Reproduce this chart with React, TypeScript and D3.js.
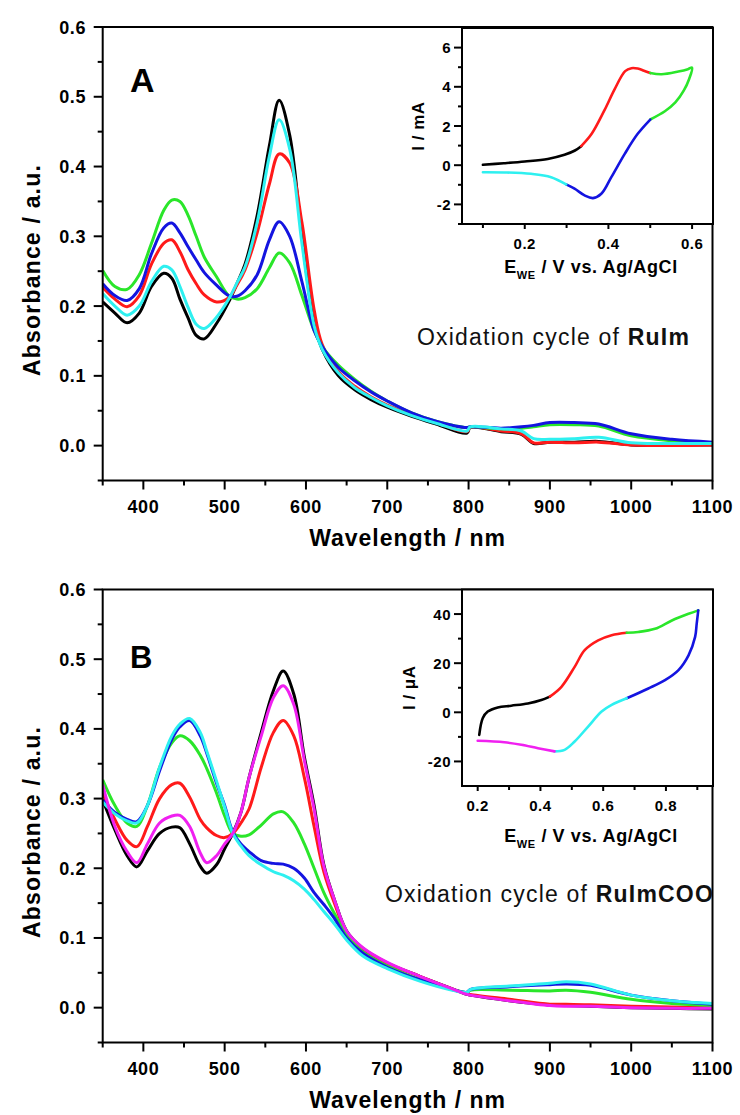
import React from "react";
import * as d3 from "d3";

// ---------------- Panel A : UV-vis spectra, oxidation cycle of RuIm ----------------
const WL_A = [350, 365, 380, 395, 410, 425, 435, 445, 455, 465, 475, 490, 505, 515, 525, 540, 555, 567, 580, 595, 610, 620, 640, 660, 680, 700, 730, 760, 798, 802, 840, 865, 880, 900, 930, 960, 1000, 1050, 1100];
const A_BLACK = [0.206, 0.19, 0.176, 0.19, 0.228, 0.247, 0.24, 0.21, 0.183, 0.158, 0.153, 0.175, 0.206, 0.232, 0.26, 0.33, 0.43, 0.495, 0.445, 0.3, 0.175, 0.138, 0.1, 0.08, 0.066, 0.055, 0.042, 0.031, 0.018, 0.026, 0.02, 0.016, 0.003, 0.005, 0.005, 0.006, 0.001, 0.001, 0.001];
const A_RED = [0.227, 0.21, 0.199, 0.215, 0.26, 0.29, 0.295, 0.278, 0.252, 0.232, 0.216, 0.206, 0.212, 0.23, 0.252, 0.305, 0.375, 0.418, 0.405, 0.32, 0.195, 0.145, 0.106, 0.085, 0.07, 0.058, 0.044, 0.033, 0.02, 0.026, 0.021, 0.017, 0.004, 0.005, 0.004, 0.005, 0.001, 0.0, 0.001];
const A_GREEN = [0.251, 0.228, 0.224, 0.245, 0.29, 0.337, 0.352, 0.35, 0.33, 0.3, 0.27, 0.242, 0.215, 0.21, 0.212, 0.225, 0.255, 0.276, 0.262, 0.215, 0.165, 0.142, 0.115, 0.095, 0.078, 0.064, 0.047, 0.035, 0.026, 0.027, 0.024, 0.025, 0.027, 0.03, 0.03, 0.028, 0.014, 0.007, 0.004];
const A_BLUE = [0.232, 0.215, 0.208, 0.225, 0.275, 0.312, 0.319, 0.305, 0.285, 0.266, 0.248, 0.23, 0.215, 0.214, 0.222, 0.245, 0.295, 0.321, 0.3, 0.235, 0.165, 0.142, 0.112, 0.093, 0.077, 0.064, 0.047, 0.035, 0.026, 0.027, 0.025, 0.027, 0.029, 0.033, 0.033, 0.031, 0.017, 0.009, 0.005];
const A_CYAN = [0.218, 0.2, 0.187, 0.2, 0.235, 0.257, 0.252, 0.228, 0.198, 0.174, 0.168, 0.184, 0.21, 0.233, 0.256, 0.32, 0.415, 0.467, 0.425, 0.29, 0.172, 0.138, 0.104, 0.083, 0.069, 0.057, 0.043, 0.032, 0.021, 0.027, 0.024, 0.021, 0.01, 0.009, 0.01, 0.012, 0.004, 0.003, 0.003];

// ---------------- Panel B : UV-vis spectra, oxidation cycle of RuImCOO ----------------
const WL_B = [350, 365, 380, 392, 405, 420, 435, 445, 457, 470, 478, 490, 500, 510, 520, 530, 545, 560, 572, 585, 598, 610, 622, 635, 650, 670, 700, 740, 780, 798, 802, 850, 900, 920, 950, 1000, 1050, 1100];
const B_BLACK = [0.298, 0.255, 0.218, 0.202, 0.225, 0.25, 0.259, 0.258, 0.235, 0.203, 0.193, 0.205, 0.228, 0.25, 0.28, 0.33, 0.395, 0.455, 0.483, 0.45, 0.36, 0.29, 0.205, 0.155, 0.11, 0.085, 0.064, 0.045, 0.027, 0.019, 0.018, 0.01, 0.004, 0.003, 0.002, 0.0, -0.001, -0.002];
const B_RED = [0.308, 0.27, 0.24, 0.231, 0.26, 0.3, 0.32, 0.322, 0.302, 0.27, 0.258, 0.247, 0.244, 0.25, 0.265, 0.285, 0.345, 0.395, 0.412, 0.39, 0.33, 0.26, 0.195, 0.15, 0.108, 0.085, 0.064, 0.045, 0.027, 0.02, 0.019, 0.012, 0.005, 0.005, 0.004, 0.002, 0.001, 0.0];
const B_GREEN = [0.327, 0.29, 0.265, 0.26, 0.29, 0.345, 0.38, 0.39, 0.383, 0.362, 0.343, 0.308, 0.275, 0.25, 0.246, 0.248, 0.262, 0.278, 0.281, 0.265, 0.235, 0.2, 0.165, 0.135, 0.105, 0.08, 0.06, 0.04, 0.026, 0.022, 0.025, 0.025, 0.024, 0.025, 0.022, 0.012, 0.006, 0.003];
const B_BLUE = [0.298, 0.28, 0.27, 0.267, 0.29, 0.34, 0.385, 0.403, 0.412, 0.39, 0.365, 0.322, 0.29, 0.252, 0.235, 0.224, 0.211, 0.207, 0.206, 0.2, 0.186, 0.165, 0.148, 0.128, 0.1, 0.078, 0.058, 0.04, 0.026, 0.022, 0.026, 0.03, 0.033, 0.034, 0.032, 0.018, 0.01, 0.005];
const B_CYAN = [0.295, 0.278, 0.268, 0.265, 0.29, 0.345, 0.39, 0.407, 0.415, 0.395, 0.368, 0.325, 0.288, 0.25, 0.232, 0.218, 0.205, 0.195, 0.19, 0.182, 0.17, 0.155, 0.138, 0.12, 0.097, 0.074, 0.056, 0.038, 0.025, 0.022, 0.026, 0.031, 0.035, 0.037, 0.034, 0.018, 0.01, 0.006];
const B_MAGENTA = [0.32, 0.26, 0.224, 0.208, 0.235, 0.265, 0.275, 0.276, 0.26, 0.222, 0.208, 0.218, 0.235, 0.25, 0.28, 0.33, 0.39, 0.445, 0.462, 0.435, 0.355, 0.285, 0.203, 0.155, 0.11, 0.086, 0.065, 0.045, 0.027, 0.019, 0.018, 0.01, 0.003, 0.002, 0.002, 0.0, -0.001, -0.001];

// ---------------- Inset A : cyclic voltammogram (I / mA) ----------------
const CVA_BLACK_E = [0.1, 0.15, 0.2, 0.255, 0.295, 0.32, 0.335];
const CVA_BLACK_I = [0.02, 0.1, 0.19, 0.32, 0.53, 0.75, 0.97];
const CVA_RED_E = [0.335, 0.36, 0.39, 0.415, 0.44, 0.455, 0.47, 0.485, 0.5];
const CVA_RED_I = [0.97, 1.6, 2.78, 3.88, 4.8, 4.95, 4.93, 4.82, 4.7];
const CVA_GREEN_E = [0.5, 0.527, 0.567, 0.59, 0.6, 0.593, 0.58, 0.56, 0.535, 0.5];
const CVA_GREEN_I = [4.7, 4.64, 4.78, 4.9, 4.98, 4.4, 3.8, 3.2, 2.75, 2.33];
const CVA_BLUE_E = [0.5, 0.47, 0.439, 0.407, 0.383, 0.363, 0.343, 0.319, 0.299];
const CVA_BLUE_I = [2.33, 1.6, 0.58, -0.61, -1.46, -1.68, -1.54, -1.2, -0.98];
const CVA_CYAN_E = [0.299, 0.263, 0.215, 0.151, 0.1];
const CVA_CYAN_I = [-0.98, -0.61, -0.44, -0.37, -0.36];

// ---------------- Inset B : cyclic voltammogram (I / µA) ----------------
const CVB_BLACK_E = [0.205, 0.216, 0.232, 0.264, 0.307, 0.36, 0.403, 0.43];
const CVB_BLACK_I = [-9.2, -2.4, 0.3, 2.0, 2.7, 3.6, 5.0, 6.4];
const CVB_RED_E = [0.43, 0.467, 0.509, 0.541, 0.584, 0.627, 0.675];
const CVB_RED_I = [6.4, 10.4, 18.5, 25.3, 29.3, 31.4, 32.4];
const CVB_GREEN_E = [0.675, 0.712, 0.765, 0.819, 0.872, 0.903];
const CVB_GREEN_I = [32.4, 32.7, 34, 37.4, 40.1, 41.5];
const CVB_BLUE_E = [0.903, 0.898, 0.893, 0.872, 0.84, 0.797, 0.744, 0.675];
const CVB_BLUE_I = [41.5, 36, 30.7, 23.2, 17.2, 13.1, 9.7, 5.7];
const CVB_CYAN_E = [0.675, 0.627, 0.595, 0.552, 0.509, 0.477, 0.445];
const CVB_CYAN_I = [5.7, 3.0, 0.3, -5.8, -11.9, -15.3, -15.9];
const CVB_MAGENTA_E = [0.445, 0.392, 0.339, 0.285, 0.2];
const CVB_MAGENTA_I = [-15.9, -14.6, -13.2, -12.2, -11.6];

// ---------------- ticks ----------------
const X_MAJOR = [400, 500, 600, 700, 800, 900, 1000, 1100];
const X_MINOR = [350, 450, 550, 650, 750, 850, 950, 1050];
const Y_MAJOR = [0.0, 0.1, 0.2, 0.3, 0.4, 0.5, 0.6];
const Y_MINOR = [-0.05, 0.05, 0.15, 0.25, 0.35, 0.45, 0.55];

const IA_X_MAJOR = [0.2, 0.4, 0.6];
const IA_X_MINOR = [0.1, 0.3, 0.5];
const IA_Y_MAJOR = [-2, 0, 2, 4, 6];
const IA_Y_MINOR = [-3, -1, 1, 3, 5];
const IB_X_MAJOR = [0.2, 0.4, 0.6, 0.8];
const IB_X_MINOR = [0.3, 0.5, 0.7, 0.9];
const IB_Y_MAJOR = [-20, 0, 20, 40];
const IB_Y_MINOR = [-10, 10, 30];

const BLACK = "#000000";
const RED = "#ff1a1a";
const GREEN = "#2ae62a";
const BLUE = "#1414e0";
const CYAN = "#2ef0f0";
const MAGENTA = "#f020f0";

const FONT = "'Liberation Sans', Arial, Helvetica, sans-serif";
const X_LEFT = 102.7;
const X_RIGHT = 712.5;

type Series = { color: string; values: number[] };
type Seg = { color: string; e: number[]; i: number[] };

function SpectraPanel(props: {
  top: number;
  bottom: number;
  wl: number[];
  series: Series[];
  letter: string;
  letterY: number;
  letterSize: number;
  caption: string;
  captionBold: string;
  capX: number;
  capY: number;
  ylabelY: number;
}) {
  const { top, bottom, wl, series } = props;
  const x = d3.scaleLinear().domain([350, 1100]).range([X_LEFT, X_RIGHT]);
  const y = d3.scaleLinear().domain([-0.05, 0.6]).range([bottom, top]);
  const fmt = d3.format(".1f");
  return (
    <g>
      <defs>
        <clipPath id={`clip-${props.letter}`}>
          <rect x={X_LEFT} y={top} width={X_RIGHT - X_LEFT} height={bottom - top} />
        </clipPath>
      </defs>
      <g clipPath={`url(#clip-${props.letter})`}>
        {series.map((s, k) => {
          const line = d3
            .line<number>()
            .x((_, j) => x(wl[j]))
            .y((v) => y(v))
            .curve(d3.curveCatmullRom.alpha(0.5));
          return (
            <path key={k} d={line(s.values) || ""} fill="none" stroke={s.color} strokeWidth={3} strokeLinejoin="round" />
          );
        })}
      </g>
      {/* frame */}
      <rect x={X_LEFT} y={top} width={X_RIGHT - X_LEFT} height={bottom - top} fill="none" stroke="#000" strokeWidth={2} />
      {/* y ticks */}
      {Y_MAJOR.map((v) => (
        <g key={"ym" + v}>
          <line x1={X_LEFT - 9} x2={X_LEFT} y1={y(v)} y2={y(v)} stroke="#000" strokeWidth={2} />
          <text x={86} y={y(v) + 6.5} textAnchor="end" fontFamily={FONT} fontWeight="bold" fontSize={18} letterSpacing={0.6}>
            {fmt(v)}
          </text>
        </g>
      ))}
      {Y_MINOR.map((v) => (
        <line key={"yn" + v} x1={X_LEFT - 5} x2={X_LEFT} y1={y(v)} y2={y(v)} stroke="#000" strokeWidth={2} />
      ))}
      {/* x ticks */}
      {X_MAJOR.map((v) => (
        <g key={"xm" + v}>
          <line x1={x(v)} x2={x(v)} y1={bottom} y2={bottom + 9} stroke="#000" strokeWidth={2} />
          <text x={x(v)} y={bottom + 32} textAnchor="middle" fontFamily={FONT} fontWeight="bold" fontSize={18} letterSpacing={0.6}>
            {v}
          </text>
        </g>
      ))}
      {X_MINOR.map((v) => (
        <line key={"xn" + v} x1={x(v)} x2={x(v)} y1={bottom} y2={bottom + 5} stroke="#000" strokeWidth={2} />
      ))}
      {/* axis titles */}
      <text x={(X_LEFT + X_RIGHT) / 2} y={bottom + 65} textAnchor="middle" fontFamily={FONT} fontWeight="bold" fontSize={23} letterSpacing={1}>
        Wavelength / nm
      </text>
      <text
        transform={`translate(40,${props.ylabelY}) rotate(-90)`}
        textAnchor="middle"
        fontFamily={FONT}
        fontWeight="bold"
        fontSize={23}
        letterSpacing={1.2}
      >
        Absorbance / a.u.
      </text>
      <text x={130} y={props.letterY} fontFamily={FONT} fontWeight="bold" fontSize={props.letterSize}>
        {props.letter}
      </text>
      <text x={props.capX} y={props.capY} fontFamily={FONT} fontSize={23} letterSpacing={1.2} fill="#111">
        {props.caption}
        <tspan fontWeight="bold">{props.captionBold}</tspan>
      </text>
    </g>
  );
}

function CvInset(props: {
  id: string;
  left: number;
  right: number;
  top: number;
  bottom: number;
  xDomain: [number, number];
  yDomain: [number, number];
  xMajor: number[];
  xMinor: number[];
  yMajor: number[];
  yMinor: number[];
  segs: Seg[];
  ylabel: string;
  ylabelX: number;
  xlabelY: number;
}) {
  const { left, right, top, bottom } = props;
  const x = d3.scaleLinear().domain(props.xDomain).range([left, right]);
  const y = d3.scaleLinear().domain(props.yDomain).range([bottom, top]);
  const fx = d3.format(".1f");
  return (
    <g>
      <rect x={left} y={top} width={right - left} height={bottom - top} fill="#fff" stroke="#000" strokeWidth={2} />
      {props.segs.map((s, k) => {
        const pts: [number, number][] = s.e.map((e, j) => [x(e), y(s.i[j])]);
        const line = d3.line().curve(d3.curveCatmullRom.alpha(0.5));
        return <path key={k} d={line(pts) || ""} fill="none" stroke={s.color} strokeWidth={2.6} strokeLinecap="round" />;
      })}
      {props.yMajor.map((v) => (
        <g key={"ym" + v}>
          <line x1={left - 8} x2={left} y1={y(v)} y2={y(v)} stroke="#000" strokeWidth={2} />
          <text x={451} y={y(v) + 5.5} textAnchor="end" fontFamily={FONT} fontWeight="bold" fontSize={15} letterSpacing={0.5}>
            {v}
          </text>
        </g>
      ))}
      {props.yMinor.map((v) => (
        <line key={"yn" + v} x1={left - 4} x2={left} y1={y(v)} y2={y(v)} stroke="#000" strokeWidth={2} />
      ))}
      {props.xMajor.map((v) => (
        <g key={"xm" + v}>
          <line x1={x(v)} x2={x(v)} y1={bottom} y2={bottom + 5} stroke="#000" strokeWidth={2} />
          <text x={x(v)} y={bottom + 25} textAnchor="middle" fontFamily={FONT} fontWeight="bold" fontSize={15} letterSpacing={0.5}>
            {fx(v)}
          </text>
        </g>
      ))}
      {props.xMinor.map((v) => (
        <line key={"xn" + v} x1={x(v)} x2={x(v)} y1={bottom} y2={bottom + 4} stroke="#000" strokeWidth={2} />
      ))}
      <text
        transform={`translate(${props.ylabelX},${(top + bottom) / 2}) rotate(-90)`}
        textAnchor="middle"
        fontFamily={FONT}
        fontWeight="bold"
        fontSize={17}
        letterSpacing={0.5}
      >
        {props.ylabel}
      </text>
      <text x={591} y={props.xlabelY} textAnchor="middle" fontFamily={FONT} fontWeight="bold" fontSize={18} letterSpacing={0.6}>
        E
        <tspan fontSize={11} dy={6}>WE</tspan>
        <tspan dy={-6}> / V vs. Ag/AgCl</tspan>
      </text>
    </g>
  );
}

export default function App() {
  const seriesA: Series[] = [
    { color: BLACK, values: A_BLACK },
    { color: RED, values: A_RED },
    { color: GREEN, values: A_GREEN },
    { color: BLUE, values: A_BLUE },
    { color: CYAN, values: A_CYAN },
  ];
  const seriesB: Series[] = [
    { color: BLACK, values: B_BLACK },
    { color: RED, values: B_RED },
    { color: GREEN, values: B_GREEN },
    { color: BLUE, values: B_BLUE },
    { color: CYAN, values: B_CYAN },
    { color: MAGENTA, values: B_MAGENTA },
  ];
  const segsA: Seg[] = [
    { color: BLACK, e: CVA_BLACK_E, i: CVA_BLACK_I },
    { color: RED, e: CVA_RED_E, i: CVA_RED_I },
    { color: GREEN, e: CVA_GREEN_E, i: CVA_GREEN_I },
    { color: BLUE, e: CVA_BLUE_E, i: CVA_BLUE_I },
    { color: CYAN, e: CVA_CYAN_E, i: CVA_CYAN_I },
  ];
  const segsB: Seg[] = [
    { color: BLACK, e: CVB_BLACK_E, i: CVB_BLACK_I },
    { color: RED, e: CVB_RED_E, i: CVB_RED_I },
    { color: GREEN, e: CVB_GREEN_E, i: CVB_GREEN_I },
    { color: BLUE, e: CVB_BLUE_E, i: CVB_BLUE_I },
    { color: CYAN, e: CVB_CYAN_E, i: CVB_CYAN_I },
    { color: MAGENTA, e: CVB_MAGENTA_E, i: CVB_MAGENTA_I },
  ];
  return (
    <svg
      width={740}
      height={1115}
      viewBox="0 0 740 1115"
      style={{ position: "absolute", left: 0, top: 0, background: "#fff" }}
    >
      <rect x={0} y={0} width={740} height={1115} fill="#fff" />
      <SpectraPanel
        top={27}
        bottom={480.5}
        wl={WL_A}
        series={seriesA}
        letter="A"
        letterY={92}
        letterSize={34}
        caption="Oxidation cycle of "
        captionBold="RuIm"
        capX={417}
        capY={345}
        ylabelY={270}
      />
      <SpectraPanel
        top={589.5}
        bottom={1042.5}
        wl={WL_B}
        series={seriesB}
        letter="B"
        letterY={668}
        letterSize={31}
        caption="Oxidation cycle of "
        captionBold="RuImCOO"
        capX={385}
        capY={902}
        ylabelY={832}
      />
      <CvInset
        id="a"
        left={462}
        right={713}
        top={28}
        bottom={224}
        xDomain={[0.05, 0.65]}
        yDomain={[-3, 7]}
        xMajor={IA_X_MAJOR}
        xMinor={IA_X_MINOR}
        yMajor={IA_Y_MAJOR}
        yMinor={IA_Y_MINOR}
        segs={segsA}
        ylabel="I / mA"
        ylabelX={424}
        xlabelY={273}
      />
      <CvInset
        id="b"
        left={462}
        right={713}
        top={589.5}
        bottom={786}
        xDomain={[0.15, 0.95]}
        yDomain={[-30, 50]}
        xMajor={IB_X_MAJOR}
        xMinor={IB_X_MINOR}
        yMajor={IB_Y_MAJOR}
        yMinor={IB_Y_MINOR}
        segs={segsB}
        ylabel="I / μA"
        ylabelX={415}
        xlabelY={842}
      />
    </svg>
  );
}
